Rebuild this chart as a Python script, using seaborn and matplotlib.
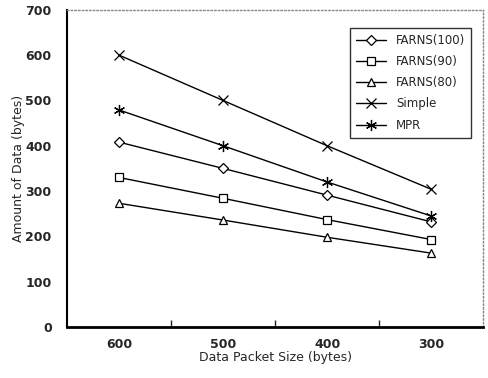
import pandas as pd
import seaborn as sns
import matplotlib.pyplot as plt
from matplotlib.ticker import FixedLocator

# -------------------------------------------------------------------
# Data
# -------------------------------------------------------------------
packet_sizes = ["600", "500", "400", "300"]
series_names = ["FARNS(100)", "FARNS(90)", "FARNS(80)", "Simple", "MPR"]

farns_100 = [408, 350, 291, 232]
farns_90 = [330, 284, 237, 193]
farns_80 = [273, 236, 198, 163]
simple = [600, 500, 400, 304]
mpr = [479, 400, 320, 245]

markers = {
    "FARNS(100)": "D",
    "FARNS(90)": "s",
    "FARNS(80)": "^",
    "Simple": "x",
    "MPR": (6, 2, 0),
}
marker_sizes = {"FARNS(100)": 5, "FARNS(90)": 6, "FARNS(80)": 6, "Simple": 7, "MPR": 8}

sns.set_theme(style="white")
plt.rcParams["font.family"] = ["DejaVu Sans"]

values = [farns_100, farns_90, farns_80, simple, mpr]
df = pd.DataFrame(
    [
        {"size": size, "amount": v, "series": name}
        for name, vals in zip(series_names, values)
        for size, v in zip(packet_sizes, vals)
    ]
)

fig, ax = plt.subplots(figsize=(4.89, 3.78), dpi=100)
fig.subplots_adjust(left=0.137, right=0.988, bottom=0.135, top=0.974)

for name in series_names:
    sns.lineplot(
        data=df[df["series"] == name],
        x="size",
        y="amount",
        marker=markers[name],
        color="black",
        linewidth=1.0,
        markersize=marker_sizes[name],
        markerfacecolor="white",
        markeredgecolor="black",
        markeredgewidth=0.9,
        label=name,
        ax=ax,
    )

ax.set_xlim(-0.5, 3.5)
ax.set_ylim(0, 700)
ax.set_yticks(range(0, 701, 100))
ax.xaxis.set_minor_locator(FixedLocator([0.5, 1.5, 2.5]))
ax.tick_params(axis="x", which="major", length=0, pad=8, labelsize=9)
ax.tick_params(axis="x", which="minor", length=5, width=1, direction="in", bottom=True)
ax.tick_params(axis="y", length=0, pad=11, labelsize=9)
for lbl in ax.get_xticklabels() + ax.get_yticklabels():
    lbl.set_fontweight("bold")

ax.set_xlabel("Data Packet Size (bytes)", fontsize=9, labelpad=0)
ax.set_ylabel("Amount of Data (bytes)", fontsize=9, labelpad=0)

for side in ["top", "right"]:
    ax.spines[side].set_color("#888888")
    ax.spines[side].set_linestyle(":")
    ax.spines[side].set_linewidth(1.0)
ax.spines["bottom"].set_color("black")
ax.spines["bottom"].set_linewidth(2.0)
ax.spines["left"].set_color("black")
ax.spines["left"].set_linewidth(1.5)

leg = ax.legend(
    loc="upper right",
    bbox_to_anchor=(0.985, 0.962),
    fontsize=8.5,
    frameon=True,
    fancybox=False,
    edgecolor="black",
    handlelength=2.6,
    labelspacing=0.7,
    borderpad=0.5,
)
leg.get_frame().set_linewidth(1.0)

plt.savefig("out.png", dpi=100)
plt.close()
